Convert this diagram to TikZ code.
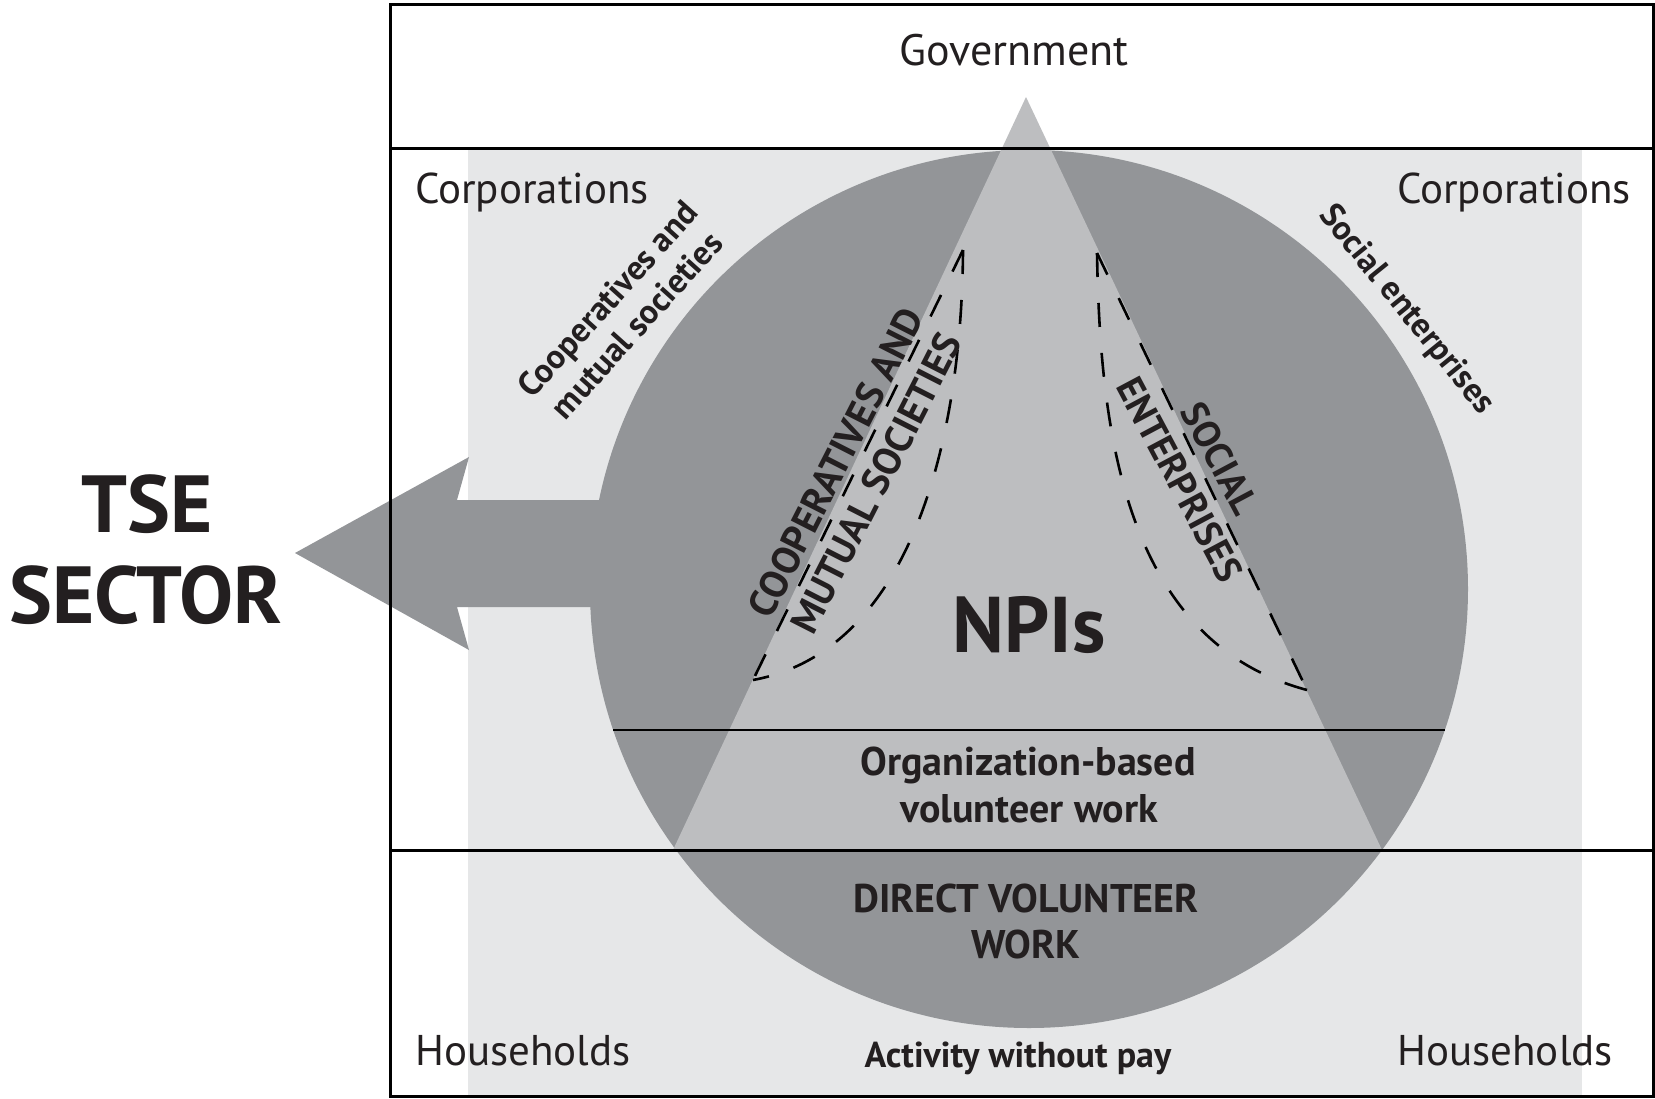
\documentclass[tikz,border=0pt]{standalone}
\usepackage{fontspec}
\setmainfont{PT Sans}
\definecolor{bandc}{RGB}{230,231,232}
\definecolor{darkc}{RGB}{147,149,152}
\definecolor{triac}{RGB}{189,190,192}
\definecolor{textc}{RGB}{35,31,32}
\tikzset{
  lbl/.style={text=textc, inner sep=0pt, font=\fontsize{43}{50}\selectfont},
  bld/.style={text=textc, inner sep=0pt, align=center, font=\bfseries\fontsize{#1}{#1}\selectfont},
  dashln/.style={draw=black, line width=2.6pt, dash pattern=on 24pt off 26pt},
  rule/.style={draw=black, line width=3pt}
}
\begin{document}
\begin{tikzpicture}[x=1pt,y=-1pt]
\useasboundingbox (0,0) rectangle (1655,1098);
\fill[white] (0,0) rectangle (1655,1098);
% light band
\fill[bandc] (468,148) rectangle (1582,1096);
% arrow
\fill[darkc] (295,553) -- (469,457) -- (457,500) -- (650,500) -- (650,607) -- (457,607) -- (469,650) -- cycle;
% circle
\fill[darkc] (1029,589) circle[radius=439];
% triangle
\fill[triac] (1026,97) -- (673,850) -- (1382,850) -- cycle;
% chord
\draw[black, line width=2.8pt] (613.3,730) -- (1444.7,730);
% rules and frame
\draw[rule] (390,148) -- (1653,148);
\draw[rule] (390,850) -- (1653,850);
\draw[rule] (390,4) rectangle (1653,1096);
% dashed lens shapes
\coordinate (la) at (963,250);
\coordinate (lb) at (753,680);
\coordinate (ra) at (1097,253);
\coordinate (rb) at (1307,690);
\draw[dashln] (la) -- (lb);
\draw[dashln] (la) .. controls (962,430) and (915,650) .. (lb);
\draw[dashln] (ra) -- (rb);
\draw[dashln] (ra) .. controls (1100,420) and (1120,640) .. (rb);
% labels
\node[lbl, anchor=base, font=\fontsize{44}{50}\selectfont] (gov) at (1014,65) {Government};
\node[lbl, anchor=base west] (corpL) at (415,203) {Corporations};
\node[lbl, anchor=base east] (corpR) at (1631,203) {Corporations};
\node[lbl, anchor=base west] (hhL) at (415,1065) {Households};
\node[lbl, anchor=base east] (hhR) at (1613,1065) {Households};
\node[bld=36, anchor=base] (act) at (1018,1067) {Activity without pay};
\node[bld=40, anchor=base] (org) at (1028,775) {Organization-based};
\node[bld=40, anchor=base] (vol) at (1029,822) {volunteer work};
\node[bld=40, anchor=base] (dir) at (1026,912) {DIRECT VOLUNTEER};
\node[bld=40, anchor=base] (work) at (1026,958) {WORK};
\node[bld=79, anchor=base] (npi) at (1029,652) {NPIs};
\node[bld=81, anchor=base] (tse) at (147,532) {TSE};
\node[bld=81, anchor=base] (sec) at (146,623) {SECTOR};
\node[bld=34, rotate=48, font=\bfseries\fontsize{34}{39}\selectfont] (coopS) at (622,312) {Cooperatives and\\mutual societies};
\node[bld=34, rotate=-51] (socS) at (1406,310) {Social enterprises};
\node[bld=40, rotate=63, font=\bfseries\fontsize{39}{45}\selectfont] (coopB) at (856,473) {COOPERATIVES AND\\MUTUAL SOCIETIES};
\node[bld=38, rotate=-62, font=\bfseries\fontsize{38}{45}\selectfont] (socB) at (1200,469) {SOCIAL\\ENTERPRISES};
\end{tikzpicture}
\end{document}
